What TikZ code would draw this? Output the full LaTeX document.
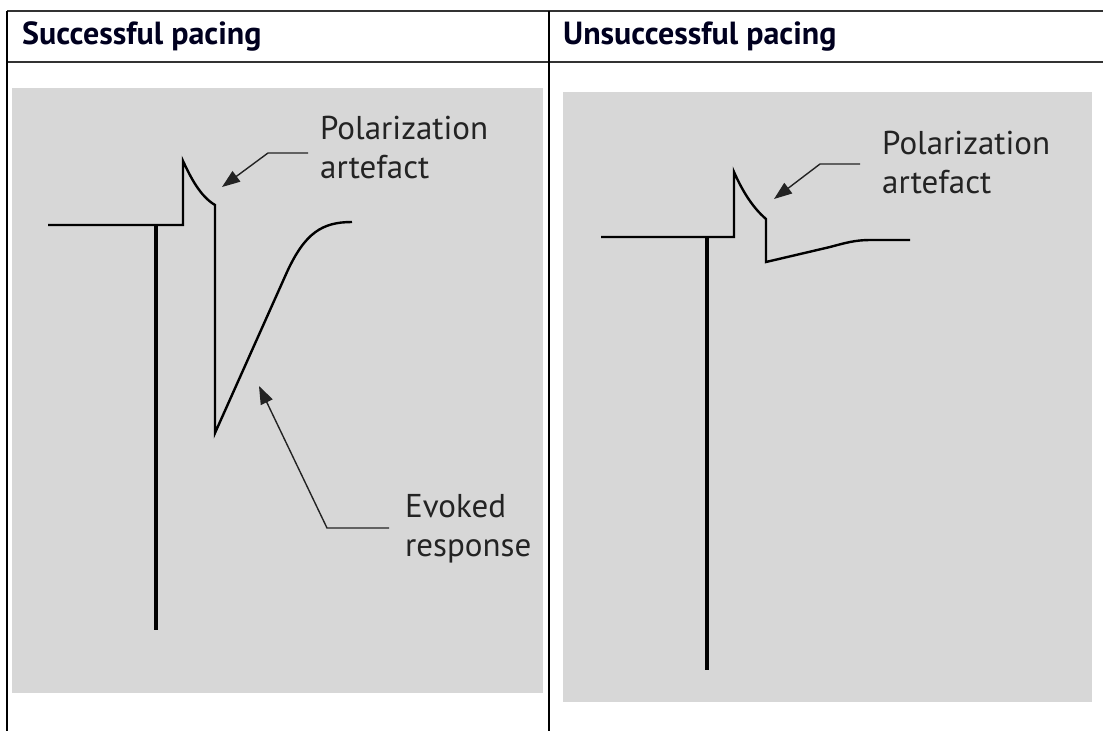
\documentclass[tikz,border=0pt]{standalone}
\usepackage{fontspec}
\setmainfont{PT Sans}
\usepackage{tikz}
\usetikzlibrary{arrows.meta}
\definecolor{panelgrey}{RGB}{215,215,215}
\definecolor{rulegrey}{RGB}{50,50,50}
\definecolor{textgrey}{RGB}{35,35,35}

\begin{document}
\begin{tikzpicture}[x=1pt,y=-1pt,
  hd/.style={anchor=base west,inner sep=0pt,font=\fontsize{32}{38}\selectfont\bfseries,text=black!88!blue},
  lbl/.style={anchor=north west,inner sep=0pt,align=left,font=\fontsize{33}{39}\selectfont,text=textgrey},
  panel/.style={fill=panelgrey,draw=none},
  rule/.style={draw=rulegrey,line width=2pt},
  trace/.style={line width=2.4pt,line join=miter},
  stim/.style={line width=3.2pt},
  ptr/.style={-{Triangle[length=18pt,width=13pt]},line width=1.4pt,textgrey}]
\useasboundingbox (0,0) rectangle (1103,731);
% table frame
\draw[rule] (7,11) -- (1103,11);
\draw[rule] (7,62) -- (1103,62);
\draw[line width=1.6pt] (7,11) -- (7,731);
\draw[line width=1.6pt] (549,11) -- (549,731);
\node[hd] (hl) at (22,44) {Successful pacing};
\node[hd] (hr) at (563,44) {Unsuccessful pacing};
% grey panels
\path[panel] (12,88) rectangle (543,693);
\path[panel] (563,92) rectangle (1092,702);
% successful
\draw[stim] (156,225) -- (156,630);
\draw[trace] (48,225) -- (183,225) -- (183,161)
  .. controls (191,178) and (200,196) .. (215,205) -- (215,433)
  -- (287,272) .. controls (305,233) and (322,222) .. (352,222);
\node[lbl] (pl) at (320,116) {Polarization\\artefact};
\coordinate (plA) at (308,153);
\coordinate (plK) at (268,153);
\coordinate (plT) at (222,187);
\draw[ptr] (plA) -- (plK) -- (plT);
\node[lbl] (ev) at (405,494) {Evoked\\response};
\coordinate (evA) at (389,528);
\coordinate (evK) at (327,528);
\coordinate (evT) at (259,386);
\draw[ptr] (evA) -- (evK) -- (evT);
% unsuccessful
\draw[stim] (707,237) -- (707,670);
\draw[trace] (601,237) -- (734,237) -- (734,172)
  .. controls (742,190) and (752,207) .. (766,219) -- (766,262)
  -- (830,247) .. controls (845,243) and (855,240) .. (870,240) -- (910,240);
\node[lbl] (pr) at (882,131) {Polarization\\artefact};
\coordinate (prA) at (860,164);
\coordinate (prK) at (820,164);
\coordinate (prT) at (774,199);
\draw[ptr] (prA) -- (prK) -- (prT);
\end{tikzpicture}
\end{document}
